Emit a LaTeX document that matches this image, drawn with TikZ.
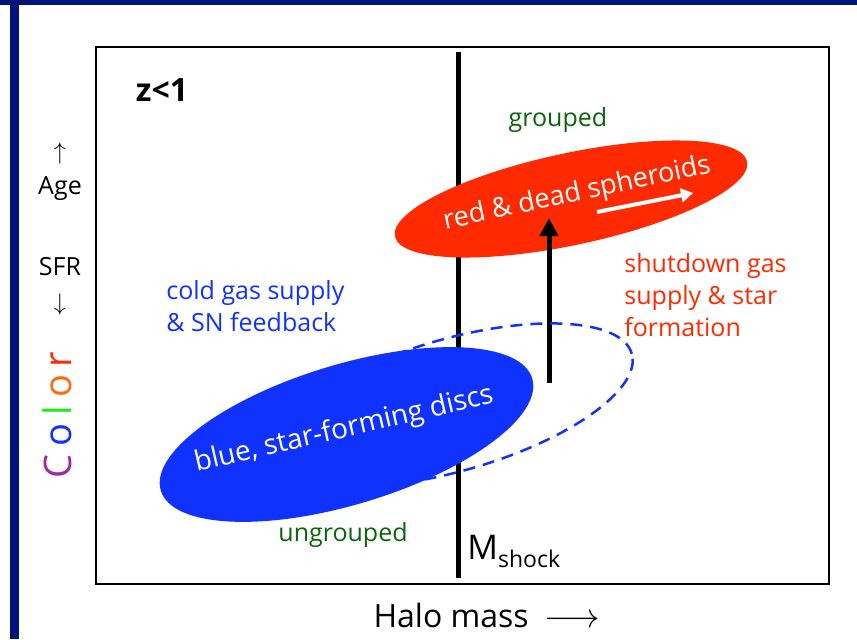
\documentclass[tikz,border=0pt]{standalone}
\usepackage{fontspec}
\setmainfont{Open Sans}
\usetikzlibrary{arrows.meta, positioning, shapes.geometric}
\definecolor{snavy}{HTML}{00137A}
\definecolor{sred}{HTML}{FF2A00}
\definecolor{sblue}{HTML}{0F32FF}
\definecolor{sgreen}{HTML}{0A640A}
\definecolor{spurple}{HTML}{9B2AA3}
\definecolor{sorange}{HTML}{FF6A0A}
\definecolor{slime}{HTML}{22E622}
\tikzset{
  lab/.style={font=\fontsize{12.5}{16}\selectfont, text=#1, inner sep=0pt, align=left},
  lab/.default=black,
  axlab/.style={font=\fontsize{12.5}{17.5}\selectfont, inner sep=0pt, align=center},
  blob/.style={ellipse, fill=#1, draw=none, inner sep=0pt},
  inlab/.style={font=\fontsize{#1}{16}\selectfont, text=white, inner sep=0pt},
  inlab/.default=13,
  uparr/.style={-{Triangle[length=9pt,width=9pt]}, line width=2.5pt, draw=black},
  whitearr/.style={-{Triangle[length=6pt,width=7pt]}, line width=2pt, draw=white}
}
\newcommand{\colorword}{%
  \textcolor{spurple}{C}\hspace{4pt}\textcolor{sblue}{o}\hspace{4pt}%
  \textcolor{slime}{l}\hspace{4pt}\textcolor{sorange}{o}\hspace{4pt}\textcolor{sred}{r}}

\begin{document}
\begin{tikzpicture}[x=0.5pt,y=0.5pt]
  \useasboundingbox (0,0) rectangle (857,639);
  % slide bars
  \fill[snavy] (0,634) rectangle (857,639);
  \fill[snavy] (10,0) rectangle (19,639);
  % frame
  \draw[line width=1.4pt] (96,55) rectangle (829,592);

  % shock mass line
  \coordinate (shocktop) at (458,587);
  \coordinate (shockbot) at (458,61);
  \draw[line width=2.5pt] (shocktop) -- (shockbot);
  \node[anchor=south west, inner sep=0pt, font=\fontsize{17}{20}\selectfont]
    (mshock) at (467,71) {M\raisebox{-0.45ex}{\fontsize{11.5}{14}\selectfont shock}};

  % red population
  \node[blob=sred, minimum width=180pt, minimum height=46pt, rotate=12]
        (spher) at (571,440) {};

  % quenching arrow
  \coordinate (quench0) at (549,256);
  \coordinate (quench1) at (549,421);
  \draw[uparr] (quench0) -- (quench1);

  % dashed region and blue population
  \node[ellipse, draw=sblue, dash pattern=on 6pt off 4pt, line width=1.25pt,
        minimum width=186pt, minimum height=66pt, inner sep=0pt, rotate=16]
        (reach) at (453,234) {};
  \node[blob=sblue, minimum width=194pt, minimum height=70pt, rotate=16.8]
        (discs) at (346.5,204.5) {};
  \node[inlab=14, rotate=13] (discslab) at (344,209) {blue, star-forming discs};
  \node[inlab=13.6, rotate=12] (spherlab) at (577,445) {red \& dead spheroids};
  \coordinate (grow0) at (597,427);
  \coordinate (grow1) at (693,446);
  \draw[whitearr] (grow0) -- (grow1);

  % labels
  \node[inner sep=0pt, font=\fontsize{16}{19}\selectfont\bfseries] (zlab) at (162,549) {z<1};
  \node[lab=sgreen] (grouped) at (558,519) {grouped};
  \node[lab=sgreen] (ungrouped) at (343,104) {ungrouped};
  \node[lab=sblue, anchor=west] (coldlab) at (166,333) {cold gas supply\\\& SN feedback};
  \node[lab=sred, anchor=west] (shutlab) at (624,344) {shutdown gas\\supply \& star\\formation};

  % axes
  \node[axlab] (agelab) at (60,467) {$\uparrow$\\Age};
  \node[axlab] (sfrlab) at (60,353) {SFR\\$\downarrow$};
  \node[rotate=90, inner sep=0pt, font=\fontsize{19}{22}\selectfont] (colorlab) at (57,224) {\colorword};
  \node[inner sep=0pt, font=\fontsize{16}{19}\selectfont] (masslab) at (487,24) {Halo mass\hspace{8pt}$\longrightarrow$};
\end{tikzpicture}
\end{document}
